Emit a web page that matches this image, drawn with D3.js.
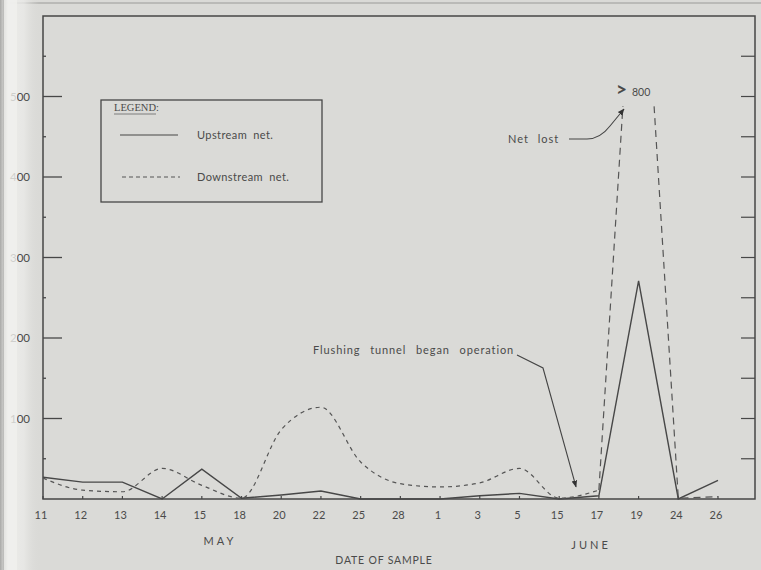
<!DOCTYPE html>
<html>
<head>
<meta charset="utf-8">
<script src="https://cdn.jsdelivr.net/npm/d3@7"></script>
<style>
  html, body { margin: 0; padding: 0; background: #dadad7; }
  svg { display: block; }
  text { font-family: Lato, "Noto Sans", sans-serif; fill: #4a4a4a; }
</style>
</head>
<body>
<svg id="chart" width="761" height="570"></svg>
<script>
// sample dates (day of month) and the month each belongs to
const dates = ["11", "12", "13", "14", "15", "18", "20", "22", "25", "28", "1", "3", "5", "15", "17", "19", "24", "26"];
const months = ["MAY", "MAY", "MAY", "MAY", "MAY", "MAY", "MAY", "MAY", "MAY", "MAY",
                "JUNE", "JUNE", "JUNE", "JUNE", "JUNE", "JUNE", "JUNE", "JUNE"];
// catch per net
const upstream   = [27, 21, 21, 0, 37, 1, 5, 10, 0, 0, 0, 4, 7, 0, 4, 271, 0, 23];
const downstream = [26, 11, 9, 38, 17, 1, 86, 114, 46, 19, 15, 20, 38, 1, 11, 800, 1, 3];
const yTicks = [100, 200, 300, 400, 500];

const svg = d3.select("#chart");
const ink = "#474747";

// page + binding shadow
const defs = svg.append("defs");
const grad = defs.append("linearGradient").attr("id", "gutter").attr("x1", 0).attr("x2", 1);
[[0, "#a9a9a7", 1], [0.06, "#c4c4c2", 1], [0.12, "#b5b5b3", 1], [0.2, "#eeeeec", 0.9],
 [0.6, "#ebebe9", 0.75], [1, "#dadad7", 0]].forEach(s =>
  grad.append("stop").attr("offset", s[0]).attr("stop-color", s[1]).attr("stop-opacity", s[2]));

svg.append("rect").attr("width", 761).attr("height", 570).attr("fill", "#dadad7");
svg.append("line").attr("x1", 0).attr("x2", 761).attr("y1", 3).attr("y2", 3)
  .attr("stroke", "#9a9a98").attr("stroke-width", 1);
svg.append("rect").attr("x", 0).attr("y", 0).attr("width", 40).attr("height", 570).attr("fill", "url(#gutter)");

const x = d3.scalePoint().domain(d3.range(dates.length)).range([43, 718]);
const y = d3.scaleLinear().domain([0, 600]).range([499, 16]);
const pLeft = 43, pRight = 755, pTop = 16, pBottom = 499;

// frame
svg.append("path")
  .attr("d", `M${pLeft},${pTop}H${pRight}V${pBottom}H${pLeft}Z`)
  .attr("fill", "none").attr("stroke", ink).attr("stroke-width", 1.5);

// axis ticks: long at hundreds, short at fifties on the left; even ticks on the right
const g = svg.append("g");
d3.range(50, 600, 50).forEach(v => {
  const major = v % 100 === 0;
  g.append("line").attr("x1", pLeft).attr("x2", pLeft + (major ? 19 : 3))
    .attr("y1", y(v)).attr("y2", y(v)).attr("stroke", ink).attr("stroke-width", 1.3);
  g.append("line").attr("x1", pRight).attr("x2", pRight - 14)
    .attr("y1", y(v)).attr("y2", y(v)).attr("stroke", ink).attr("stroke-width", 1.2);
});
g.selectAll(".ylab").data(yTicks).join("text")
  .attr("x", 30).attr("y", d => y(d) + 4)
  .attr("text-anchor", "end").attr("font-size", 11.5).attr("fill", "#8a8a88")
  .text(d => d);
// leading digits sit in the washed-out gutter
svg.append("rect").attr("x", 4).attr("y", 0).attr("width", 13).attr("height", 570)
  .attr("fill", "#f0f0ee").attr("opacity", 0.8);

// bottom ticks + labels
g.selectAll(".xt").data(d3.range(dates.length)).join("line")
  .attr("x1", d => x(d)).attr("x2", d => x(d))
  .attr("y1", pBottom).attr("y2", pBottom - 3).attr("stroke", ink).attr("stroke-width", 1.2);
g.selectAll(".xlab").data(dates).join("text")
  .attr("x", (d, i) => x(i) - 2).attr("y", 519)
  .attr("text-anchor", "middle").attr("font-size", 11).attr("fill", "#555")
  .text(d => d);

// month labels
d3.groups(d3.range(dates.length), i => months[i]).forEach(([m]) => {
  const cx = m === "MAY" ? 220 : 591;
  svg.append("text").attr("x", cx).attr("y", m === "MAY" ? 545 : 549)
    .attr("text-anchor", "middle").attr("font-size", 11).attr("letter-spacing", 3)
    .attr("fill", "#555").text(m);
});
svg.append("text").attr("x", 384).attr("y", 564).attr("text-anchor", "middle")
  .attr("font-size", 10.5).attr("letter-spacing", 0.8).attr("fill", "#555")
  .text("DATE OF SAMPLE");

// series
defs.append("clipPath").attr("id", "plotclip")
  .append("rect").attr("x", pLeft).attr("y", y(488)).attr("width", pRight - pLeft).attr("height", pBottom - y(488));

svg.append("path")
  .datum(upstream)
  .attr("fill", "none").attr("stroke", ink).attr("stroke-width", 1.4)
  .attr("d", d3.line().x((d, i) => x(i)).y(d => y(d)));

const cut = 14; // smooth through the early season, straight into the spike
const dashed = svg.append("g").attr("clip-path", "url(#plotclip)");
dashed.append("path")
  .datum(downstream.slice(0, cut + 1))
  .attr("fill", "none").attr("stroke", "#555").attr("stroke-width", 1.2).attr("stroke-dasharray", "4,4")
  .attr("d", d3.line().x((d, i) => x(i)).y(d => y(d)).curve(d3.curveMonotoneX));
dashed.append("path")
  .datum(downstream.slice(cut))
  .attr("fill", "none").attr("stroke", "#555").attr("stroke-width", 1.2).attr("stroke-dasharray", "7,5")
  .attr("d", d3.line().x((d, i) => x(i + cut)).y(d => y(d)));

// legend
const lg = svg.append("g");
lg.append("rect").attr("x", 101).attr("y", 100).attr("width", 221).attr("height", 102)
  .attr("fill", "none").attr("stroke", ink).attr("stroke-width", 1.3);
lg.append("text").attr("x", 114).attr("y", 111).attr("font-size", 10.5)
  .style("font-family", "'Liberation Serif', serif").attr("fill", "#555").text("LEGEND:");
lg.append("line").attr("x1", 114).attr("x2", 156).attr("y1", 114).attr("y2", 114)
  .attr("stroke", "#666").attr("stroke-width", 0.8);
lg.append("line").attr("x1", 120).attr("x2", 178).attr("y1", 135).attr("y2", 135)
  .attr("stroke", ink).attr("stroke-width", 1.1);
lg.append("line").attr("x1", 122).attr("x2", 180).attr("y1", 177).attr("y2", 177)
  .attr("stroke", "#555").attr("stroke-width", 1).attr("stroke-dasharray", "4,3");
lg.append("text").attr("x", 197).attr("y", 139).attr("font-size", 11).attr("letter-spacing", 0.4)
  .attr("word-spacing", 3).text("Upstream net.");
lg.append("text").attr("x", 197).attr("y", 181).attr("font-size", 11).attr("letter-spacing", 0.4)
  .attr("word-spacing", 3).text("Downstream net.");

// annotations
defs.append("marker").attr("id", "arrow").attr("viewBox", "0 0 10 10")
  .attr("refX", 9).attr("refY", 5).attr("markerWidth", 7).attr("markerHeight", 7)
  .attr("orient", "auto").attr("markerUnits", "userSpaceOnUse")
  .append("path").attr("d", "M0,1L10,5L0,9Z").attr("fill", "#333");

svg.append("text").attr("x", 616).attr("y", 96).attr("font-size", 19).attr("font-weight", "bold")
  .attr("fill", "#333").text(">");
svg.append("text").attr("x", 632).attr("y", 96).attr("font-size", 10.5).attr("fill", "#444").text("800");

svg.append("text").attr("x", 508).attr("y", 143).attr("font-size", 11).attr("letter-spacing", 1)
  .attr("word-spacing", 5).text("Net lost");
svg.append("path").attr("d", "M569,139H587Q600,139 610,126L624,109")
  .attr("fill", "none").attr("stroke", "#444").attr("stroke-width", 1.1).attr("marker-end", "url(#arrow)");

svg.append("text").attr("x", 313).attr("y", 354).attr("font-size", 11).attr("letter-spacing", 0.9)
  .attr("word-spacing", 6).text("Flushing tunnel began operation");
const ax = (x(13) + x(14)) / 2 - 3;
svg.append("path").attr("d", `M517,355L543,368L${ax},${y(15)}`)
  .attr("fill", "none").attr("stroke", "#444").attr("stroke-width", 1.1).attr("marker-end", "url(#arrow)");
</script>
</body>
</html>
